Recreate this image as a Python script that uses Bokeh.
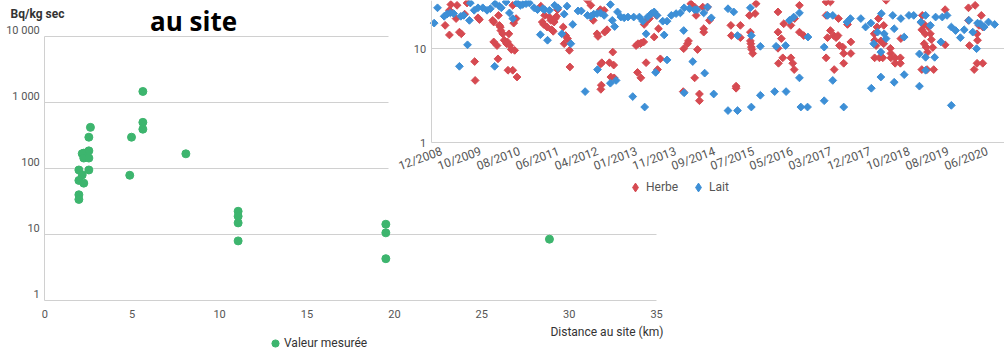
import math
from bokeh.plotting import figure
from bokeh.models import Range1d, LogScale, LogAxis, FixedTicker, Label, Legend, LegendItem
from bokeh.layouts import row
from bokeh.embed import file_html
from bokeh.resources import INLINE

# ---------------- Left chart data: distance to site vs measured value ----------------
DIST_KM = [2.61, 2.52, 2.23, 2.52, 2.14, 2.23, 2.52, 1.95, 2.52, 2.14, 1.95, 2.23, 1.95, 1.95,
           4.96, 4.86, 5.61, 5.61, 5.61, 8.07, 11.06, 11.06, 11.06, 11.06, 19.51, 19.51, 19.51, 28.87]
MEASURED = [420, 298, 171, 185, 168, 144, 144, 95, 95, 80, 66, 60, 40, 34,
            298, 79, 1470, 500, 394, 167, 22.5, 18.9, 15.0, 8.0, 14.3, 10.6, 4.3, 8.5]
X_TICKS = [0, 5, 10, 15, 20, 25, 30, 35]
Y_TICKS = [1, 10, 100, 1000, 10000]
Y_TICK_LABELS = ["1", "10", "100", "1 000", "10 000"]

# ---------------- Right chart data: Herbe / Lait time series ----------------
HERBE_YEAR = [
    2009.06, 2009.15, 2009.15, 2009.18, 2009.29, 2009.31, 2009.36, 2009.40, 2009.47, 2009.52,
    2009.68, 2009.69, 2009.75, 2009.78, 2010.06, 2010.08, 2010.08, 2010.15, 2010.17, 2010.18,
    2010.20, 2010.22, 2010.23, 2010.27, 2010.30, 2010.35, 2010.37, 2010.38, 2010.40, 2010.42,
    2010.45, 2010.48, 2010.50, 2010.52, 2010.57, 2010.55, 2010.48, 2011.07, 2011.10, 2011.13,
    2011.15, 2011.20, 2011.25, 2011.28, 2011.30, 2011.33, 2011.35, 2011.37, 2011.40, 2011.42,
    2011.54, 2011.56, 2011.59, 2011.63, 2011.67, 2011.68, 2012.05, 2012.12, 2012.17, 2012.25,
    2012.27, 2012.32, 2012.33, 2012.35, 2012.33, 2012.34, 2012.41, 2012.46, 2012.40, 2012.51,
    2012.54, 2012.58, 2012.60, 2012.61, 2013.07, 2013.11, 2013.16, 2013.18, 2013.23, 2013.24,
    2013.26, 2013.28, 2013.31, 2013.35, 2013.10, 2013.17, 2013.45, 2013.50, 2013.52, 2013.54,
    2013.58, 2014.07, 2014.06, 2014.15, 2014.17, 2014.22, 2014.27, 2014.40, 2014.30, 2014.33,
    2014.36, 2014.40, 2014.30, 2014.47, 2014.49, 2014.49, 2014.57, 2014.61, 2015.06, 2015.07,
    2015.17, 2015.17, 2015.26, 2015.26, 2015.45, 2015.47, 2015.47, 2015.48, 2015.49, 2015.50,
    2015.52, 2015.59, 2015.57, 2016.05, 2016.05, 2016.12, 2016.05, 2016.06, 2016.15, 2016.17,
    2016.32, 2016.32, 2016.36, 2016.39, 2016.40, 2016.50, 2016.50, 2016.59, 2017.06, 2017.15,
    2017.06, 2017.06, 2017.15, 2017.09, 2017.22, 2017.27, 2017.31, 2017.34, 2017.23, 2017.32,
    2017.41, 2017.43, 2017.43, 2017.51, 2017.58, 2017.58, 2018.07, 2018.08, 2018.11, 2018.08,
    2018.18, 2018.25, 2018.13, 2018.16, 2018.21, 2018.27, 2018.27, 2018.32, 2018.41, 2018.42,
    2018.42, 2018.51, 2018.51, 2018.62, 2018.62, 2018.63, 2019.07, 2019.07, 2019.12, 2019.14,
    2019.12, 2019.16, 2019.19, 2019.21, 2019.25, 2019.07, 2019.18, 2019.27, 2019.30, 2019.32,
    2019.56, 2019.56, 2020.05, 2020.05, 2020.07, 2020.19, 2020.23, 2020.24, 2020.17, 2020.23,
    2020.35, 2020.32, 2020.35, 2020.27, 2019.08]
HERBE_VAL = [
    17.7, 14.0, 25.6, 29.5, 20.9, 28.9, 15.0, 14.4, 23.3, 30.6,
    7.3, 4.6, 21.3, 20.4, 20.0, 19.2, 11.8, 10.8, 7.8, 22.6,
    17.7, 17.0, 15.6, 14.4, 12.3, 11.3, 11.8, 5.9, 14.4, 10.8,
    9.8, 5.9, 18.7, 9.6, 5.0, 20.9, 28.9, 28.3, 19.2, 18.1,
    22.6, 17.0, 21.7, 20.0, 15.9, 15.3, 19.2, 20.9, 22.1, 26.0,
    17.0, 11.3, 13.8, 12.8, 9.6, 6.4, 32.7, 28.9, 20.0, 14.4,
    13.5, 26.0, 6.9, 7.1, 3.7, 4.1, 15.0, 15.9, 25.6, 7.1,
    5.0, 9.2, 6.7, 4.9, 10.8, 11.3, 11.3, 11.5, 11.8, 18.1,
    19.2, 7.1, 20.0, 20.9, 5.6, 4.9, 13.3, 22.6, 6.0, 16.3,
    7.8, 10.0, 3.5, 11.3, 12.1, 30.1, 27.7, 3.3, 4.9, 22.6,
    9.8, 2.8, 27.7, 27.7, 16.3, 15.0, 27.7, 20.0, 17.7, 13.8,
    4.0, 3.8, 17.7, 13.1, 22.6, 15.0, 12.1, 11.3, 10.4, 9.8,
    8.9, 30.1, 23.6, 24.6, 15.0, 12.8, 10.1, 7.0, 8.0, 18.4,
    17.7, 8.0, 7.0, 6.0, 20.9, 28.9, 15.0, 13.8, 31.4, 31.4,
    22.6, 8.0, 15.6, 13.1, 13.8, 13.1, 13.8, 10.8, 6.0, 20.9,
    10.4, 8.9, 7.0, 18.1, 11.8, 8.9, 14.4, 12.3, 10.8, 8.0,
    8.0, 8.0, 17.0, 20.9, 12.1, 11.3, 17.7, 32.7, 10.1, 8.9,
    8.0, 8.0, 7.0, 8.0, 7.0, 12.8, 18.7, 15.9, 18.1, 14.4,
    11.3, 10.4, 9.2, 17.0, 14.4, 6.0, 6.0, 12.5, 10.3, 6.0,
    26.0, 11.0, 27.2, 20.0, 10.8, 28.9, 14.4, 12.3, 6.0, 7.0,
    7.0, 22.6, 17.0, 17.7, 22.6]

LAIT_YEAR = [
    2008.83, 2008.90, 2009.04, 2009.10, 2009.17, 2009.24, 2009.36, 2009.39, 2009.45, 2009.53,
    2009.57, 2009.59, 2009.67, 2009.75, 2009.85, 2009.94, 2010.01, 2010.10, 2010.11, 2010.20,
    2010.24, 2010.34, 2010.41, 2010.48, 2010.57, 2010.64, 2010.69, 2010.76, 2010.83, 2010.93,
    2011.00, 2011.06, 2011.11, 2011.15, 2011.21, 2011.25, 2011.36, 2011.43, 2011.51, 2011.56,
    2011.62, 2011.70, 2011.74, 2011.85, 2011.92, 2012.00, 2012.05, 2012.12, 2012.18, 2012.26,
    2012.25, 2012.32, 2012.40, 2012.53, 2012.53, 2012.57, 2012.62, 2012.65, 2012.68, 2012.75,
    2012.82, 2012.90, 2013.00, 2013.02, 2013.14, 2013.21, 2013.25, 2013.28, 2013.31, 2013.39,
    2013.45, 2013.48, 2013.51, 2013.63, 2013.66, 2013.72, 2013.72, 2013.81, 2013.91, 2014.00,
    2014.07, 2014.08, 2014.08, 2014.19, 2014.26, 2014.30, 2014.51, 2014.70, 2015.00, 2015.20,
    2015.49, 2015.68, 2015.68, 2015.00, 2015.12, 2015.47, 2015.49, 2015.20, 2015.98, 2016.22,
    2016.01, 2016.21, 2016.29, 2016.38, 2016.50, 2016.50, 2016.53, 2016.67, 2016.68, 2017.02,
    2017.02, 2017.20, 2017.43, 2017.09, 2017.20, 2017.50, 2017.57, 2017.79, 2017.89, 2018.01,
    2018.00, 2018.06, 2018.14, 2018.21, 2018.21, 2018.22, 2018.28, 2018.32, 2018.46, 2018.49,
    2018.49, 2018.63, 2018.70, 2018.70, 2018.80, 2018.90, 2019.02, 2019.02, 2019.05, 2019.15,
    2019.15, 2019.15, 2019.25, 2019.34, 2019.36, 2019.47, 2019.50, 2019.60, 2019.69, 2019.69,
    2019.78, 2019.88, 2019.96, 2020.06, 2020.14, 2020.22, 2020.24, 2020.30, 2020.38, 2020.47,
    2020.60, 2014.35, 2014.49, 2014.57, 2014.65]
LAIT_VAL = [
    18.7, 27.2, 22.1, 23.3, 24.0, 23.6, 6.5, 22.1, 22.6, 11.0,
    20.0, 30.6, 25.6, 27.2, 27.2, 25.6, 26.6, 6.5, 30.1, 28.3,
    27.2, 31.4, 24.0, 20.9, 30.6, 28.9, 29.5, 30.1, 30.6, 27.2,
    26.0, 14.1, 26.6, 26.0, 12.3, 25.6, 28.9, 27.2, 14.4, 23.3,
    28.3, 11.3, 18.1, 25.2, 25.2, 3.5, 22.6, 22.1, 23.3, 6.0,
    23.6, 24.0, 22.6, 4.3, 29.5, 20.0, 17.2, 4.6, 24.6, 21.7,
    21.3, 21.7, 3.1, 21.7, 21.7, 19.6, 2.4, 14.4, 21.7, 23.6,
    24.6, 5.6, 22.6, 19.6, 14.0, 7.6, 19.6, 22.6, 23.6, 24.0,
    15.6, 3.4, 27.2, 26.6, 7.3, 26.0, 5.5, 3.3, 2.2, 2.2,
    2.4, 3.2, 10.6, 26.6, 24.6, 27.2, 13.8, 13.8, 3.5, 3.5,
    10.6, 10.8, 20.0, 21.7, 24.0, 4.9, 2.4, 2.4, 13.3, 10.4,
    2.8, 4.6, 2.4, 22.6, 22.6, 19.2, 20.9, 20.9, 17.0, 3.8,
    18.7, 11.3, 15.0, 5.0, 9.2, 23.6, 14.4, 12.8, 22.6, 4.4,
    16.3, 20.9, 5.3, 13.3, 22.6, 22.6, 4.0, 8.8, 19.2, 5.9,
    8.1, 22.6, 17.7, 8.1, 21.7, 11.8, 21.7, 22.6, 2.5, 17.0,
    15.6, 13.1, 15.9, 20.0, 15.0, 10.0, 18.7, 18.4, 17.0, 19.2,
    18.1, 26.0, 24.0, 27.7, 21.3]

DATE_LABELS = ["12/2008", "10/2009", "08/2010", "06/2011", "04/2012", "01/2013", "11/2013",
               "09/2014", "07/2015", "05/2016", "03/2017", "12/2017", "10/2018", "08/2019", "06/2020"]
DATE_TICK_START = 2008.99
DATE_TICK_STEP = 0.8185
R_Y_TICKS = [1, 10, 100]
R_Y_TICK_LABELS = ["1", "10", "100"]

GREEN = "#3db56e"
RED = "#d64a51"
BLUE = "#3d8fd6"
GRID = "#d0d0d0"
TICK_TXT = "#555555"
FONT = "Roboto"


def no_align(p):
    try:
        p.frame_align = False
    except Exception:
        pass


# ======================= Left chart (frame = whole canvas) =======================
W1, H1 = 680, 349
PX_KM = 17.48          # pixels per km
X0_PX, Y1_PX = 44.3, 300.0   # pixel of 0 km and of value 1
DEC_PX = 66.0          # pixels per decade
x1_range = Range1d(-X0_PX / PX_KM, (W1 - X0_PX) / PX_KM)
y1_range = Range1d(10 ** (-(H1 - Y1_PX) / DEC_PX), 10 ** (Y1_PX / DEC_PX))

p1 = figure(width=W1, height=H1, output_backend="svg", toolbar_location=None, title=None,
            x_range=x1_range, y_range=y1_range, y_axis_type="log",
            min_border=0, outline_line_color=None,
            background_fill_color="white", border_fill_color="white")
no_align(p1)
p1.xgrid.visible = False

# main y axis: only the line
ya = p1.yaxis[0]
ya.fixed_location = 0
ya.bounds = (Y_TICKS[0], Y_TICKS[-1])
ya.ticker = FixedTicker(ticks=[])
ya.axis_line_color = GRID
ya.major_tick_line_color = None
ya.minor_tick_line_color = None

# labels axis, shifted a few pixels above their grid lines
shift = 10 ** (6 / DEC_PX)
p1.extra_y_ranges = {"lab": Range1d(y1_range.start / shift, y1_range.end / shift)}
p1.extra_y_scales = {"lab": LogScale()}
yax = LogAxis(y_range_name="lab", fixed_location=0, ticker=FixedTicker(ticks=Y_TICKS),
              major_label_overrides={t: l for t, l in zip(Y_TICKS, Y_TICK_LABELS)},
              axis_line_color=None, major_tick_line_color=None, minor_tick_line_color=None,
              major_tick_in=0, major_tick_out=0,
              major_label_standoff=5, major_label_text_font=FONT,
              major_label_text_font_size="11px", major_label_text_color=TICK_TXT)
p1.add_layout(yax, "left")

grid_ticks = [t for t in Y_TICKS if t > 1]
p1.ygrid.ticker = FixedTicker(ticks=grid_ticks)
p1.ygrid.grid_line_color = GRID
try:
    p1.ygrid.cross_bounds = (X_TICKS[0], X_TICKS[-1])
except Exception:
    p1.ygrid.visible = False
    p1.segment(x0=[X_TICKS[0]] * len(grid_ticks), x1=[X_TICKS[-1]] * len(grid_ticks),
               y0=grid_ticks, y1=grid_ticks, line_color=GRID, line_width=1)

xax = p1.xaxis[0]
xax.fixed_location = 1
xax.bounds = (X_TICKS[0], X_TICKS[-1])
xax.ticker = FixedTicker(ticks=X_TICKS)
xax.axis_line_color = GRID
xax.major_tick_line_color = None
xax.minor_tick_line_color = None
xax.major_tick_in = 0
xax.major_tick_out = 0
xax.major_label_standoff = 9
xax.major_label_text_font = FONT
xax.major_label_text_font_size = "11px"
xax.major_label_text_color = TICK_TXT

r_g = p1.scatter(DIST_KM, MEASURED, marker="circle", size=8, color=GREEN)

leg1 = Legend(items=[LegendItem(label="Valeur mesurée", renderers=[r_g])],
              location=(266, -3), orientation="horizontal", border_line_color=None,
              background_fill_alpha=0, label_text_font=FONT, label_text_font_size="12px",
              label_text_color="#333333", glyph_width=18, glyph_height=18, padding=0, margin=0,
              label_standoff=0, spacing=0)
p1.add_layout(leg1, "center")

p1.add_layout(Label(x=193, y=H1 - 20.5, x_units="screen", y_units="screen", text="au site",
                    text_align="center", text_baseline="alphabetic", text_font="Open Sans",
                    text_font_style="bold", text_font_size="26px", text_color="#000000"))
p1.add_layout(Label(x=10, y=H1 - 13, x_units="screen", y_units="screen", text="Bq/kg sec",
                    text_align="left", text_baseline="middle", text_font=FONT,
                    text_font_style="bold", text_font_size="12px", text_color="#333333"))
p1.add_layout(Label(x=663, y=H1 - 331, x_units="screen", y_units="screen",
                    text="Distance au site (km)", text_align="right", text_baseline="middle",
                    text_font=FONT, text_font_size="12px", text_color="#333333"))

# ======================= Right chart (frame = whole canvas) =======================
W2, H2 = 616, 200
LEFT2 = 388                  # window x of this panel
PX_YEAR = 47.62              # pixels per year
TICK0_PX = 441.3 - LEFT2     # local pixel of first date tick
AXIS_X_PX = 430.7 - LEFT2    # local pixel of the y axis line
Y1_PX2, DEC_PX2 = 142.3, 94.1
x2_start = DATE_TICK_START - TICK0_PX / PX_YEAR
x2_range = Range1d(x2_start, x2_start + W2 / PX_YEAR)
y2_range = Range1d(10 ** (-(H2 - Y1_PX2) / DEC_PX2), 10 ** (Y1_PX2 / DEC_PX2))
x_axis_year = x2_start + AXIS_X_PX / PX_YEAR

p2 = figure(width=W2, height=H2, output_backend="svg", toolbar_location=None, title=None,
            x_range=x2_range, y_range=y2_range, y_axis_type="log",
            min_border=0, outline_line_color=None,
            background_fill_color="white", border_fill_color="white")
no_align(p2)
p2.margin = (0, 0, 0, LEFT2 - W1)
p2.xgrid.visible = False
p2.ygrid.ticker = FixedTicker(ticks=[10])
p2.ygrid.grid_line_color = GRID
try:
    p2.ygrid.cross_bounds = (x_axis_year, x2_range.end)
except Exception:
    pass

ya2 = p2.yaxis[0]
ya2.fixed_location = x_axis_year
ya2.bounds = (1, y2_range.end)
ya2.ticker = FixedTicker(ticks=R_Y_TICKS)
ya2.major_label_overrides = {t: l for t, l in zip(R_Y_TICKS, R_Y_TICK_LABELS)}
ya2.axis_line_color = GRID
ya2.major_tick_line_color = None
ya2.minor_tick_line_color = None
ya2.major_tick_in = 0
ya2.major_tick_out = 0
ya2.major_label_standoff = 5
ya2.major_label_text_font = FONT
ya2.major_label_text_font_size = "11px"
ya2.major_label_text_color = TICK_TXT

date_ticks = [DATE_TICK_START + DATE_TICK_STEP * i for i in range(len(DATE_LABELS))]
xa2 = p2.xaxis[0]
xa2.fixed_location = 1
xa2.bounds = (x_axis_year, x2_range.end)
xa2.ticker = FixedTicker(ticks=date_ticks)
xa2.major_label_overrides = {t: l for t, l in zip(date_ticks, DATE_LABELS)}
xa2.major_label_orientation = 0.35
xa2.axis_line_color = GRID
xa2.major_tick_line_color = None
xa2.minor_tick_line_color = None
xa2.major_tick_in = 0
xa2.major_tick_out = 0
xa2.major_label_standoff = 8
xa2.major_label_text_font = FONT
xa2.major_label_text_font_size = "12px"
xa2.major_label_text_color = TICK_TXT

r_h = p2.scatter(HERBE_YEAR, HERBE_VAL, marker="square", size=5.5, angle=math.pi / 4, color=RED)
r_l = p2.scatter(LAIT_YEAR, LAIT_VAL, marker="square", size=5.5, angle=math.pi / 4, color=BLUE)
# legend swatches: same series drawn as diamonds, hidden on the plot, shown only in the legend
k_h = p2.scatter(HERBE_YEAR, HERBE_VAL, marker="diamond", size=9, color=RED, visible=False)
k_l = p2.scatter(LAIT_YEAR, LAIT_VAL, marker="diamond", size=9, color=BLUE, visible=False)

leg2 = Legend(items=[LegendItem(label="Herbe", renderers=[k_h]), LegendItem(label="Lait", renderers=[k_l])],
              location=(624 - LEFT2, H2 - 198), orientation="horizontal", border_line_color=None,
              background_fill_alpha=0, label_text_font=FONT, label_text_font_size="12px",
              label_text_color="#555555", glyph_width=22, glyph_height=22, padding=0, margin=0,
              label_standoff=-2, spacing=9, inactive_fill_alpha=0)
p2.add_layout(leg2, "center")

layout = row(p1, p2)
open("out.html", "w").write(file_html(layout, INLINE))
